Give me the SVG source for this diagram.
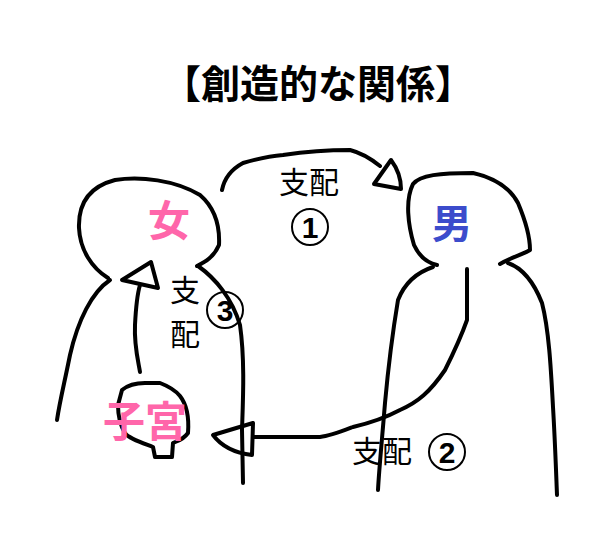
<svg xmlns="http://www.w3.org/2000/svg" width="604" height="558" viewBox="0 0 604 558">
<style>
.l{fill:none;stroke:#000;stroke-width:4;stroke-linecap:round;stroke-linejoin:round}
.t{font-family:"Liberation Serif","Noto Sans CJK JP",serif;font-size:30px;fill:#000}
.b{font-family:"Noto Sans CJK JP",sans-serif;font-weight:bold;text-anchor:middle}
.c{fill:none;stroke:#000;stroke-width:2}
.n{font-family:"Liberation Sans",sans-serif;font-weight:bold;font-size:30px;text-anchor:middle}
</style>
<rect width="604" height="558" fill="#fff"/>
<text class="b" x="318" y="98" font-size="39">【創造的な関係】</text>
<g id="woman">
<path class="l" d="M108,278 C92,268 80,250 79,228 C78,200 92,186 115,180 C140,176 175,180 200,195 C215,208 220,225 219,245 C214,257 205,262 197,266"/>
<path class="l" d="M110,280 C92,292 78,320 70,355 C64,385 60,400 57,420"/>
<path class="l" d="M198,266 C215,278 232,298 240,325 C245,360 243,400 242,430 L243,483"/>
<text class="b" x="169" y="236" font-size="42" fill="#ff66aa">女</text>
</g>
<g id="man">
<path class="l" d="M437,265 C428,263 420,258 414,245 C408,225 405,200 413,184 C420,175 440,173 473,173 C495,178 510,188 518,203 C526,222 530,240 530,250 C522,255 512,257 500,264"/>
<path class="l" d="M433,267 C418,272 405,282 398,300 C393,330 388,370 385,403 C382,440 379,470 378,490"/>
<path class="l" d="M508,263 C522,268 533,280 542,303 C549,330 551,370 553,407 C555,440 556,470 557,495"/>
<text class="b" x="452" y="238" font-size="40" fill="#3c4ccc">男</text>
</g>
<g id="uterus">
<path class="l" d="M122,390 C128,385 135,383 145,383 L160,383 C168,386 175,390 180,396 C187,405 189,420 188,433 C183,440 177,441 173,443 L172,457 L155,457 L153,447 C140,442 128,438 125,433 C120,425 118,415 118,405 Z"/>
<text class="b" x="145" y="437" font-size="42" fill="#ff66aa">子宮</text>
</g>
<g id="connectors">
<path class="l" d="M222,190 C224,180 230,170 243,163 C260,158 270,156 283,155 C310,151 330,150 350,150 C362,153 370,158 380,166"/>
<path class="l" d="M374,184 L391,160 C397,168 401,178 401,189 Z"/>
<path class="l" d="M467,269 L467,320 C460,340 455,350 445,370 C430,392 418,402 400,410 C385,418 370,423 353,427 C340,432 330,436 320,437 L253,437"/>
<path class="l" d="M213,435 L253,423 L252,455 C235,453 222,447 213,435 Z"/>
<path class="l" d="M140,372 C138,360 134,345 135,325 C136,305 137,295 140,285"/>
<path class="l" d="M122,280 L151,262 L158,288 Z"/>
</g>
<g id="labels">
<text class="t" x="279" y="193">支配</text>
<circle class="c" cx="310" cy="227" r="18"/><text class="n" x="310" y="238">1</text>
<text class="t" x="352" y="462">支配</text>
<circle class="c" cx="447" cy="452" r="18"/><text class="n" x="447" y="463">2</text>
<text class="t" x="170" y="301">支</text>
<text class="t" x="170" y="345">配</text>
<circle class="c" cx="225" cy="310" r="18"/><text class="n" x="225" y="321">3</text>
</g>
</svg>
